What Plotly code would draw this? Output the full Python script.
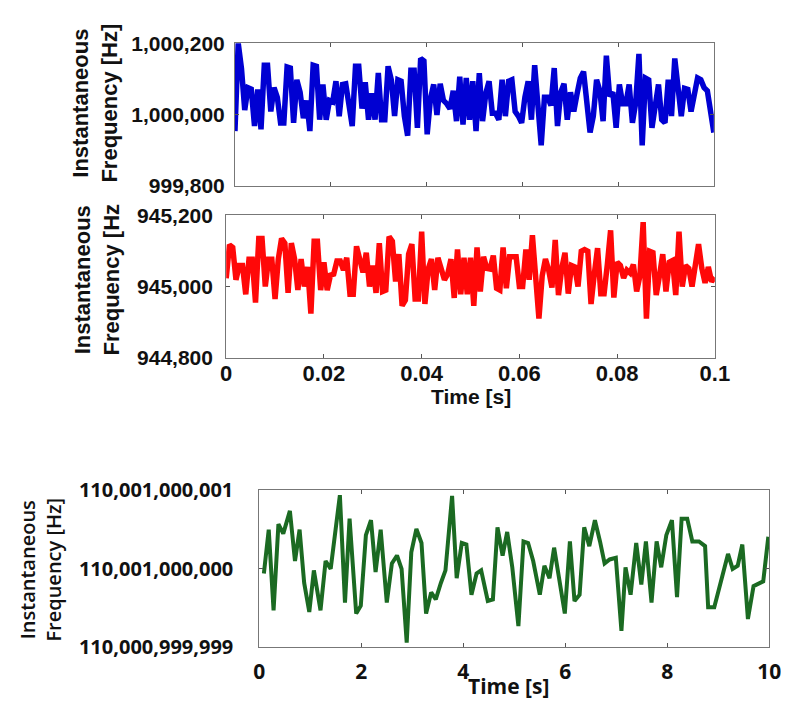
import numpy as np
import plotly.graph_objects as go

# ---------------- data ----------------
# Top panel (blue): deviation from 1,000,000 Hz, sampled uniformly over 0..0.1 s
blue_base = 1000000
blue_dev = [
    -47, 200, 129, 12, 75, 71, -33, 70, -42, 138, 138, 8, 75, 48, -24, -24, 133, 130, -24, 97,
    62, -11, 39, -47, 138, 135, -15, 84, -15, 39, 35, 93, -5, 84, 86, 16, -33, 135, 135, 16,
    90, -15, 59, -15, 116, -15, -15, 135,
    97, -5, 97, 93, -5, -60, 124, 124, -38, 157, 150, -56, 43, 84, -2, 86, 39, 30, 16, 66,
    -19, 106, -29, 102, -15, 93, -47, 116, -19, 59, 93, 3, 3, -15, 97, -5, 93, 97, 8, -5,
    -24, 48, 93, -15, 138, 25, -87, 48, 48, 25, 130,
    -33, 62, 86, -15, 62, 8, 57, 102, 120, 30, -51, -5, 97, 66, -19, 165, 51, 62, -38, 84,
    30, 30, 84, -24, 32, 170, -87, 102, 97, -38, 39, 84, -15, -24, 97, -5, 157, 76, -5, 73,
    70, 8, 57, 102, 97, 75, 66, -5, -51,
]

# Middle panel (red): deviation from 945,000 Hz
red_base = 945000
red_dev = [
    23, 117, 110, 19, 59, 59, -22, 77, 77, -45, 135, 135, 0, 77, 77, -35, 77, 135, 122, -18,
    122, 77, -10, 77, 0, 55, -76, 127, 127, -10, 68, -10, 32, 35, 72, 72, 46, 81, -22, -22,
    113, 81, 40, 95, 0, 59, -18, 122, -14, -10, 140,
    127, 14, 91, -54, -38, 91, 119, -35, -35, 154, -49, 49, 77, -10, 81, 51, 19, 35, 77, -32,
    104, -22, 81, -22, 81, -54, 110, -14, 84, 51, 49, 87, -5, -10, 110, -5, 84, 84, 84, 0,
    0, 104, 19, 144, 30, -90, 30, 77, 46, -3,
    131, -24, 51, 95, -20, 59, 55, 0, 99, 104, 99, -49, 35, 108, -20, -20, 62, 158, -31, 68,
    59, 24, 46, 38, 62, -14, 30, 181, -90, 99, 95, -24, 30, 91, -14, 68, 73, -24, 154, 0,
    59, 51, 0, 59, 119, 51, 10, 55, 14, 26,
]

# Bottom panel (green): time [s] and deviation from 110,001,000,000 Hz
green_base = 110001000000
green_t = [
    0.09, 0.185, 0.28, 0.375, 0.47, 0.6, 0.7, 0.79, 0.88, 0.98, 1.07, 1.2, 1.3, 1.4, 1.58,
    1.68, 1.77, 1.9, 1.99, 2.09, 2.19, 2.28, 2.38, 2.5, 2.6, 2.7, 2.79, 2.89, 2.98, 3.08,
    3.18, 3.27, 3.37, 3.46, 3.56, 3.65, 3.78, 3.87, 3.97, 4.06, 4.16, 4.26, 4.35, 4.48, 4.58,
    4.67, 4.77, 4.86, 4.96, 5.08, 5.18, 5.27, 5.37, 5.50, 5.59, 5.69, 5.78, 5.88, 5.99, 6.09,
    6.18, 6.28, 6.37, 6.47, 6.58, 6.68, 6.77, 6.87, 6.99, 7.10, 7.18, 7.28, 7.39, 7.49, 7.58,
    7.69, 7.79, 7.88, 7.98, 8.09, 8.19, 8.28, 8.39, 8.49, 8.62, 8.74, 8.80, 8.92, 9.06, 9.19,
    9.28, 9.38, 9.47, 9.58, 9.69, 9.88, 9.98,
]
green_dev = [
    -0.06, 0.50, -0.53, 0.57, 0.45, 0.74, 0.10, 0.50, -0.18, -0.55, -0.02, -0.53, 0.10, 0.0, 0.94,
    -0.43, 0.64, -0.57, -0.47, 0.43, 0.62, -0.04, 0.50, -0.43, 0.07, 0.17, 0.0, -0.94, 0.21, 0.51,
    0.33, -0.57, -0.30, -0.39, -0.18, -0.02, 0.93, -0.12, 0.33, 0.31, -0.33, -0.06, -0.02, -0.41, -0.39,
    0.53, 0.17, 0.47, 0.02, -0.73, 0.35, 0.33, 0.10, -0.33, 0.04, -0.12, 0.27, -0.13, -0.57, 0.35,
    -0.41, -0.33, 0.53, 0.29, 0.62, 0.35, 0.07, 0.12, 0.14, -0.79, 0.02, -0.33, 0.33, -0.20, 0.35,
    -0.43, 0.35, 0.02, 0.43, 0.62, -0.36, 0.64, 0.64, 0.35, 0.35, 0.29, -0.49, -0.49, -0.16, 0.19,
    0.0, 0.04, 0.31, -0.64, -0.22, -0.16, 0.41,
]

top_xticks = [0, 0.02, 0.04, 0.06, 0.08, 0.1]
top_xticklabels = ["0", "0.02", "0.04", "0.06", "0.08", "0.1"]
blue_yticks = [999800, 1000000, 1000200]
blue_yticklabels = ["999,800", "1,000,000", "1,000,200"]
red_yticks = [944800, 945000, 945200]
red_yticklabels = ["944,800", "945,000", "945,200"]
green_xticks = [0, 2, 4, 6, 8, 10]
green_xticklabels = ["0", "2", "4", "6", "8", "10"]
green_yticks = [110000999999, 110001000000, 110001000001]
green_yticklabels = ["110,000,999,999", "110,001,000,000", "110,001,000,001"]

blue_t = np.linspace(0, 0.1, len(blue_dev))
red_t = np.linspace(0, 0.1, len(red_dev))
blue_y = [blue_base + v for v in blue_dev]
red_y = [red_base + v for v in red_dev]
green_y = [green_base + v for v in green_dev]

# ---------------- figure ----------------
W, H = 789, 709


def px_x(p):
    return p / W


def px_y(p):
    return 1 - p / H


ARIAL = "Liberation Sans, Arial, sans-serif"
CAL = "Open Sans, Lato, sans-serif"

fig = go.Figure()
fig.add_trace(go.Scatter(x=blue_t, y=blue_y, mode="lines", line=dict(color="#0000d2", width=5.5),
                         xaxis="x", yaxis="y", showlegend=False))
fig.add_trace(go.Scatter(x=red_t, y=red_y, mode="lines", line=dict(color="#ff0808", width=5.5),
                         xaxis="x2", yaxis="y2", showlegend=False))
fig.add_trace(go.Scatter(x=green_t, y=green_y, mode="lines", line=dict(color="#1b6a22", width=4),
                         xaxis="x3", yaxis="y3", showlegend=False))

axcommon = dict(showline=True, linecolor="#777", linewidth=1, mirror="ticks", ticks="inside",
                ticklen=4, tickcolor="#555", showgrid=False, zeroline=False, fixedrange=True)

fig.update_layout(
    width=W, height=H, margin=dict(l=0, r=0, t=0, b=0),
    paper_bgcolor="white", plot_bgcolor="white",
    xaxis=dict(domain=[px_x(227), px_x(719)], anchor="y", range=[0, 0.1],
               tickvals=top_xticks[1:-1], showticklabels=False, **axcommon),
    yaxis=dict(domain=[px_y(170), px_y(22)], anchor="x", range=[999800, 1000200],
               tickvals=blue_yticks, ticktext=blue_yticklabels, ticklabelstandoff=5,
               tickfont=dict(family=ARIAL, size=21, color="#111", weight="bold"), **axcommon),
    xaxis2=dict(domain=[px_x(218), px_x(720)], anchor="y2", range=[0, 0.1],
                tickvals=top_xticks, ticktext=top_xticklabels, ticklabelstandoff=-4,
                tickfont=dict(family=ARIAL, size=22, color="#111", weight="bold"), **axcommon),
    yaxis2=dict(domain=[px_y(349), px_y(201)], anchor="x2", range=[944800, 945200],
                tickvals=red_yticks, ticktext=red_yticklabels, ticklabelstandoff=8,
                tickfont=dict(family=ARIAL, size=21, color="#111", weight="bold"), **axcommon),
    xaxis3=dict(domain=[px_x(252), px_x(776)], anchor="y3", range=[0, 10],
                tickvals=green_xticks, ticktext=green_xticklabels, ticklabelstandoff=6,
                tickfont=dict(family=CAL, size=21, color="#111", weight="bold"), **axcommon),
    yaxis3=dict(domain=[px_y(650), px_y(487)], anchor="x3", range=[110000999999, 110001000001],
                tickvals=green_yticks, ticktext=green_yticklabels, ticklabelstandoff=21,
                tickfont=dict(family=CAL, size=20, color="#111", weight="bold"), **axcommon),
)

annos = [
    dict(text="Instantaneous<br>Frequency [Hz]", x=px_x(83), y=px_y(84), textangle=-90,
         font=dict(family=ARIAL, size=22, color="#111", weight="bold")),
    dict(text="Instantaneous<br>Frequency [Hz", x=px_x(85), y=px_y(268), textangle=-90,
         font=dict(family=ARIAL, size=22, color="#111", weight="bold")),
    dict(text="Time [s]", x=px_x(469), y=px_y(389),
         font=dict(family=ARIAL, size=21, color="#111", weight="bold")),
    dict(text="Instantaneous<br>Frequency [Hz]", x=px_x(27), y=px_y(569), textangle=-90,
         font=dict(family=CAL, size=20, color="#111", weight=600)),
    dict(text="Time [s]", x=px_x(508), y=px_y(690),
         font=dict(family=CAL, size=21, color="#111", weight="bold")),
]
for a in annos:
    fig.add_annotation(xref="paper", yref="paper", showarrow=False, xanchor="center",
                       yanchor="middle", **a)

fig.write_html("out.html")
